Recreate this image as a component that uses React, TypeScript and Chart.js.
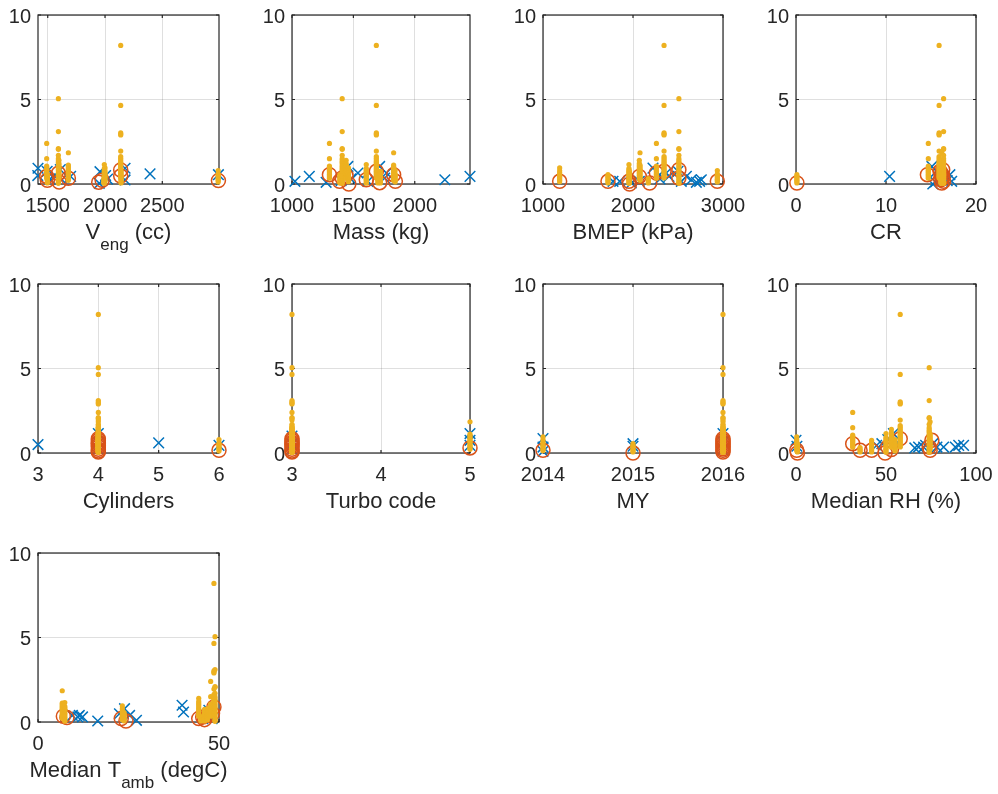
import { useEffect, useRef } from 'react';
import { Chart, registerables } from 'chart.js';

Chart.register(...registerables);

// ---- colours (MATLAB default order) ----
const BLUE = '#0072BD';
const ORANGE = '#D95319';
const YELLOW = '#EDB120';
const AXIS = '#262626';
const GRID = 'rgba(38,38,38,0.15)';
const FONT = "'Liberation Sans', Arial, Helvetica, sans-serif";

// ---- individual test results per vehicle (y values) ----
const runsA = [8.2, 4.65, 3.02, 2.96, 2.9, 1.95, 1.62, 1.52, 1.42, 1.32, 1.24, 1.16, 1.08, 1.0, 0.92, 0.84, 0.76, 0.68, 0.6, 0.52, 0.44, 0.36];
const runsB = [5.05, 3.1, 2.1, 2.05, 1.7, 1.5, 1.38, 1.28, 1.18, 1.08, 0.98, 0.88, 0.78, 0.68, 0.58, 0.48, 0.38, 0.28, 0.18, 0.1, 0.04];
const runsC = [2.4, 1.5, 1.06, 0.98, 0.9, 0.82, 0.74, 0.66, 0.58, 0.5, 0.42, 0.34];
const runsD = [1.85, 1.12, 1.04, 0.94, 0.86, 0.78, 0.7, 0.62, 0.54, 0.46, 0.38, 0.3, 0.22];
const runsE = [1.15, 0.92, 0.84, 0.76, 0.68, 0.6, 0.52, 0.44, 0.36, 0.28, 0.2, 0.12, 0.05];
const runsF = [1.4, 1.22, 1.1, 1.0, 0.9, 0.8, 0.7, 0.6, 0.5, 0.42, 0.34];
const runsG = [0.95, 0.78, 0.66, 0.56, 0.46, 0.38, 0.3, 0.22, 0.14];
const runsH = [0.8, 0.6, 0.52, 0.44, 0.36, 0.28, 0.2, 0.12];
const runsJ = [0.55, 0.46, 0.38, 0.3, 0.22, 0.14, 0.06];
const runsK = [0.75, 0.62, 0.52, 0.42, 0.32, 0.22, 0.14, 0.06];
const runsL = [0.32, 0.22, 0.14, 0.06];

type Pt = [number, number];
type Col = { x: number; ys: number[] };

// ---- y axis (shared) ----
const yLimits: Pt = [0, 10];
const yTicks = [0, 5, 10];

// ---- V_eng (cc) ----
const vengLimits: Pt = [1415, 2995];
const vengTicks = [1500, 2000, 2500];
const vengDots: Col[] = [
  { x: 1491, ys: runsC }, { x: 1497, ys: runsJ }, { x: 1593, ys: runsB }, { x: 1598, ys: runsF },
  { x: 1680, ys: runsD }, { x: 1994, ys: runsE }, { x: 2000, ys: runsG }, { x: 2137, ys: runsA },
  { x: 2140, ys: runsK }, { x: 1990, ys: runsL }, { x: 2988, ys: runsH },
];
const vengCircles: Pt[] = [[1491, 0.45], [1497, 0.22], [1593, 0.63], [1600, 0.12], [1680, 0.34], [1945, 0.1], [1975, 0.22], [2137, 0.83], [2137, 0.47], [2990, 0.2]];
const vengCrosses: Pt[] = [[1415, 0.93], [1413, 0.5], [1495, 0.75], [1520, 0.3], [1560, 0.45], [1610, 0.85], [1625, 0.25], [1700, 0.45], [1956, 0.73], [2022, 0.29], [1950, 0.04], [2005, 0.5], [2175, 0.93], [2175, 0.24], [2393, 0.6], [2990, 0.55]];

// ---- Mass (kg) ----
const massLimits: Pt = [1000, 2450];
const massTicks = [1000, 1500, 2000];
const massDots: Col[] = [
  { x: 1305, ys: runsC }, { x: 1390, ys: runsJ }, { x: 1409, ys: runsB }, { x: 1441, ys: runsF },
  { x: 1460, ys: runsG }, { x: 1605, ys: runsE }, { x: 1687, ys: runsA }, { x: 1720, ys: runsK },
  { x: 1700, ys: runsL }, { x: 1828, ys: runsD }, { x: 1840, ys: runsH },
];
const massCircles: Pt[] = [[1305, 0.55], [1387, 0.16], [1409, 0.35], [1440, 0.5], [1463, 0.0], [1605, 0.25], [1687, 0.75], [1714, 0.08], [1828, 0.55], [1842, 0.16]];
const massCrosses: Pt[] = [[1024, 0.16], [1141, 0.45], [1278, 0.1], [1400, 0.2], [1455, 1.04], [1480, 0.3], [1537, 0.65], [1618, 0.16], [1714, 1.04], [1755, 0.35], [1769, 0.65], [2245, 0.25], [2450, 0.45]];

// ---- BMEP (kPa) ----
const bmepLimits: Pt = [1000, 3000];
const bmepTicks = [1000, 2000, 3000];
const bmepDots: Col[] = [
  { x: 1185, ys: runsG }, { x: 1722, ys: runsJ }, { x: 1955, ys: runsE }, { x: 1960, ys: runsK },
  { x: 2070, ys: runsF }, { x: 2078, ys: runsD }, { x: 2170, ys: runsL }, { x: 2260, ys: runsC },
  { x: 2345, ys: runsA }, { x: 2510, ys: runsB }, { x: 2937, ys: runsH },
];
const bmepCircles: Pt[] = [[1185, 0.16], [1722, 0.16], [1955, 0.16], [1962, 0.0], [2070, 0.45], [2185, 0.06], [2260, 0.65], [2345, 0.75], [2510, 0.85], [2510, 0.35], [2937, 0.16]];
const bmepCrosses: Pt[] = [[1778, 0.16], [1852, 0.16], [1981, 0.06], [2070, 0.16], [2222, 0.94], [2296, 0.55], [2300, 0.3], [2370, 0.65], [2400, 0.45], [2500, 0.75], [2537, 0.16], [2593, 0.45], [2648, 0.25], [2704, 0.1], [2740, 0.16], [2759, 0.25]];

// ---- CR ----
const crLimits: Pt = [0, 20];
const crTicks = [0, 10, 20];
const crDots: Col[] = [
  { x: 0.1, ys: runsJ }, { x: 14.7, ys: runsC }, { x: 15.9, ys: runsA }, { x: 16.1, ys: runsE },
  { x: 16.2, ys: runsD }, { x: 16.2, ys: runsF }, { x: 16.3, ys: runsG }, { x: 16.3, ys: runsH },
  { x: 16.4, ys: runsB }, { x: 16.4, ys: runsK }, { x: 16.2, ys: runsL },
];
const crCircles: Pt[] = [[0.1, 0.06], [14.6, 0.55], [16.0, 0.75], [16.1, 0.25], [16.2, 0.06], [16.3, 0.85], [16.3, 0.45], [16.2, 0.6], [16.4, 0.16], [16.3, 0.35]];
const crCrosses: Pt[] = [[10.4, 0.45], [15.1, 1.04], [15.2, 0.0], [15.5, 0.12], [15.6, 0.75], [16.0, 0.3], [16.8, 0.2], [17.1, 0.55], [17.3, 0.16]];

// ---- Cylinders ----
const cylLimits: Pt = [3, 6];
const cylTicks = [3, 4, 5, 6];
const cylDots: Col[] = [
  { x: 4, ys: runsA }, { x: 4, ys: runsB }, { x: 4, ys: runsC }, { x: 4, ys: runsD }, { x: 4, ys: runsE },
  { x: 4, ys: runsF }, { x: 4, ys: runsG }, { x: 4, ys: runsJ }, { x: 4, ys: runsK }, { x: 4, ys: runsL },
  { x: 6, ys: runsH },
];
const cylCircles: Pt[] = [[4, 0.06], [4, 0.12], [4, 0.22], [4, 0.35], [4, 0.45], [4, 0.55], [4, 0.63], [4, 0.75], [4, 0.85], [6, 0.16]];
const cylCrosses: Pt[] = [[3, 0.5], [4, 1.15], [4, 0.6], [4, 0.25], [5, 0.6], [6, 0.45]];

// ---- Turbo code ----
const turboLimits: Pt = [3, 5];
const turboTicks = [3, 4, 5];
const turboDots: Col[] = [
  { x: 3, ys: runsA }, { x: 3, ys: runsB }, { x: 3, ys: runsC }, { x: 3, ys: runsE }, { x: 3, ys: runsF },
  { x: 3, ys: runsG }, { x: 3, ys: runsH }, { x: 3, ys: runsJ }, { x: 3, ys: runsK }, { x: 3, ys: runsL },
  { x: 5, ys: runsD },
];
const turboCircles: Pt[] = [[3, 0.06], [3, 0.12], [3, 0.22], [3, 0.35], [3, 0.45], [3, 0.55], [3, 0.63], [3, 0.75], [3, 0.85], [5, 0.3]];
const turboCrosses: Pt[] = [[3, 1.0], [3, 0.5], [3, 0.2], [5, 1.15], [5, 0.75], [5, 0.45]];

// ---- MY ----
const myLimits: Pt = [2014, 2016];
const myTicks = [2014, 2015, 2016];
const myDots: Col[] = [
  { x: 2014, ys: runsG }, { x: 2015, ys: runsJ },
  { x: 2016, ys: runsA }, { x: 2016, ys: runsB }, { x: 2016, ys: runsC }, { x: 2016, ys: runsD },
  { x: 2016, ys: runsE }, { x: 2016, ys: runsF }, { x: 2016, ys: runsH }, { x: 2016, ys: runsK }, { x: 2016, ys: runsL },
];
const myCircles: Pt[] = [[2014, 0.16], [2015, 0.0], [2016, 0.06], [2016, 0.16], [2016, 0.25], [2016, 0.35], [2016, 0.45], [2016, 0.55], [2016, 0.65], [2016, 0.75], [2016, 0.85]];
const myCrosses: Pt[] = [[2014, 0.85], [2014, 0.35], [2014, 0.1], [2015, 0.55], [2015, 0.4], [2016, 1.15], [2016, 0.6], [2016, 0.2]];

// ---- Median RH (%) ----
const rhLimits: Pt = [0, 100];
const rhTicks = [0, 50, 100];
const rhDots: Col[] = [
  { x: 0.4, ys: runsG }, { x: 0.8, ys: runsJ }, { x: 31.5, ys: runsC }, { x: 35.6, ys: runsL },
  { x: 42, ys: runsK }, { x: 50, ys: runsE }, { x: 53, ys: runsF }, { x: 55, ys: runsH },
  { x: 57.9, ys: runsA }, { x: 74, ys: runsB }, { x: 74.5, ys: runsD },
];
const rhCircles: Pt[] = [[0.4, 0.16], [0.8, 0.0], [31.5, 0.55], [35.6, 0.16], [42, 0.16], [49.5, 0.0], [51, 0.35], [53, 0.2], [57.9, 0.85], [74, 0.35], [74.5, 0.16], [75.5, 0.75]];
const rhCrosses: Pt[] = [[0, 0.75], [0.5, 0.4], [44.8, 0.45], [47.7, 0.55], [51, 0.8], [54.1, 1.15], [56, 0.6], [66, 0.3], [68.1, 0.35], [70.9, 0.35], [72, 0.45], [76, 0.55], [78.3, 0.35], [82, 0.35], [88.5, 0.35], [90.4, 0.45], [93.1, 0.45]];

// ---- Median T_amb (degC) ----
const tambLimits: Pt = [0, 50];
const tambTicks = [0, 50];
const tambDots: Col[] = [
  { x: 6.7, ys: runsD }, { x: 7.4, ys: runsE }, { x: 23.3, ys: runsG }, { x: 23.8, ys: runsJ },
  { x: 44.4, ys: runsF }, { x: 45, ys: runsL }, { x: 46, ys: runsK }, { x: 46.8, ys: runsH },
  { x: 47.7, ys: runsC }, { x: 48.6, ys: runsA }, { x: 48.9, ys: runsB },
];
const tambCircles: Pt[] = [[7, 0.34], [8, 0.26], [23, 0.2], [24.3, 0.06], [44.4, 0.2], [45.5, 0.3], [46, 0.14], [47, 0.39], [48.2, 0.5], [48.6, 0.89]];
const tambCrosses: Pt[] = [[9.5, 0.39], [11, 0.3], [11.4, 0.39], [12.3, 0.3], [16.5, 0.06], [22.5, 0.49], [23.9, 0.79], [25.3, 0.39], [27.2, 0.1], [39.8, 0.99], [40.2, 0.59], [46.7, 0.39], [47.2, 0.69], [48.1, 0.2]];

// ---- axis captions (sub = subscript piece) ----
type Piece = { text: string; sub?: boolean };
const captions: Piece[][] = [
  [{ text: 'V' }, { text: 'eng', sub: true }, { text: ' (cc)' }],
  [{ text: 'Mass (kg)' }],
  [{ text: 'BMEP (kPa)' }],
  [{ text: 'CR' }],
  [{ text: 'Cylinders' }],
  [{ text: 'Turbo code' }],
  [{ text: 'MY' }],
  [{ text: 'Median RH (%)' }],
  [{ text: 'Median T' }, { text: 'amb', sub: true }, { text: ' (degC)' }],
];

type PanelSpec = {
  limits: Pt; ticks: number[]; dots: Col[]; circles: Pt[]; crosses: Pt[]; caption: Piece[];
};

const panels: PanelSpec[] = [
  { limits: vengLimits, ticks: vengTicks, dots: vengDots, circles: vengCircles, crosses: vengCrosses, caption: captions[0] },
  { limits: massLimits, ticks: massTicks, dots: massDots, circles: massCircles, crosses: massCrosses, caption: captions[1] },
  { limits: bmepLimits, ticks: bmepTicks, dots: bmepDots, circles: bmepCircles, crosses: bmepCrosses, caption: captions[2] },
  { limits: crLimits, ticks: crTicks, dots: crDots, circles: crCircles, crosses: crCrosses, caption: captions[3] },
  { limits: cylLimits, ticks: cylTicks, dots: cylDots, circles: cylCircles, crosses: cylCrosses, caption: captions[4] },
  { limits: turboLimits, ticks: turboTicks, dots: turboDots, circles: turboCircles, crosses: turboCrosses, caption: captions[5] },
  { limits: myLimits, ticks: myTicks, dots: myDots, circles: myCircles, crosses: myCrosses, caption: captions[6] },
  { limits: rhLimits, ticks: rhTicks, dots: rhDots, circles: rhCircles, crosses: rhCrosses, caption: captions[7] },
  { limits: tambLimits, ticks: tambTicks, dots: tambDots, circles: tambCircles, crosses: tambCrosses, caption: captions[8] },
];

// ---- subplot grid geometry (plot-area boxes) ----
const COL_LEFT = [38, 292, 543, 796];
const COL_WIDTH = [181, 178, 180, 180];
const ROW_TOP = [15, 284, 553];
const PLOT_H = 169;
const PAD_LEFT = 38;
const PAD_TOP = 20;
const PAD_RIGHT = 34;
const PAD_BOTTOM = 80;
const TICK_SIZE = 20;
const LABEL_SIZE = 22;
const SUB_SIZE = 17;

// Box outline with inward tick marks on all four sides
const boxPlugin = {
  id: 'boxOutline',
  beforeDatasetsDraw(chart: any) {
    const { ctx, chartArea: a, scales } = chart;
    ctx.save();
    ctx.strokeStyle = AXIS;
    ctx.lineWidth = 1.2;
    ctx.strokeRect(a.left, a.top, a.right - a.left, a.bottom - a.top);
    const len = 3;
    ctx.beginPath();
    scales.x.ticks.forEach((t: any) => {
      const px = scales.x.getPixelForValue(t.value);
      ctx.moveTo(px, a.bottom); ctx.lineTo(px, a.bottom - len);
      ctx.moveTo(px, a.top); ctx.lineTo(px, a.top + len);
    });
    scales.y.ticks.forEach((t: any) => {
      const py = scales.y.getPixelForValue(t.value);
      ctx.moveTo(a.left, py); ctx.lineTo(a.left + len, py);
      ctx.moveTo(a.right, py); ctx.lineTo(a.right - len, py);
    });
    ctx.stroke();
    ctx.restore();
  },
};

// x-axis caption, with optional subscript pieces
function captionPlugin(pieces: Piece[]) {
  return {
    id: 'axisCaption',
    afterDraw(chart: any) {
      const { ctx, chartArea: a } = chart;
      ctx.save();
      ctx.fillStyle = AXIS;
      ctx.textAlign = 'left';
      ctx.textBaseline = 'alphabetic';
      const fontOf = (p: Piece) => `${p.sub ? SUB_SIZE : LABEL_SIZE}px ${FONT}`;
      const widths = pieces.map((p) => { ctx.font = fontOf(p); return ctx.measureText(p.text).width; });
      const total = widths.reduce((s, w) => s + w, 0);
      let x = (a.left + a.right) / 2 - total / 2;
      const base = a.bottom + 55;
      pieces.forEach((p, i) => {
        ctx.font = fontOf(p);
        ctx.fillText(p.text, x, base + (p.sub ? 11 : 0));
        x += widths[i];
      });
      ctx.restore();
    },
  };
}

function Subplot({ spec, left, top, plotW }: { spec: PanelSpec; left: number; top: number; plotW: number }) {
  const ref = useRef<HTMLCanvasElement>(null);
  const W = PAD_LEFT + plotW + PAD_RIGHT;
  const H = PAD_TOP + PLOT_H + PAD_BOTTOM;

  useEffect(() => {
    const dotData = spec.dots.flatMap((c) => c.ys.map((y) => ({ x: c.x, y })));
    const circleData = spec.circles.map(([x, y]) => ({ x, y }));
    const crossData = spec.crosses.map(([x, y]) => ({ x, y }));
    const tickFont = { family: FONT, size: TICK_SIZE };

    const chart = new Chart(ref.current!, {
      type: 'scatter',
      data: {
        datasets: [
          {
            data: dotData, pointStyle: 'circle', pointRadius: 2.6, pointBorderWidth: 0,
            pointBackgroundColor: YELLOW, pointBorderColor: YELLOW, clip: false as any,
          },
          {
            data: circleData, pointStyle: 'circle', pointRadius: 7, pointBorderWidth: 1.5,
            pointBackgroundColor: 'rgba(0,0,0,0)', pointBorderColor: ORANGE, clip: false as any,
          },
          {
            data: crossData, pointStyle: 'crossRot', pointRadius: 7.5, pointBorderWidth: 1.5,
            pointBackgroundColor: BLUE, pointBorderColor: BLUE, clip: false as any,
          },
        ],
      },
      options: {
        responsive: false,
        animation: false,
        events: [],
        layout: { padding: { left: 0, top: PAD_TOP, right: PAD_RIGHT, bottom: 0 }, autoPadding: false },
        plugins: { legend: { display: false }, tooltip: { enabled: false } },
        scales: {
          x: {
            type: 'linear',
            min: spec.limits[0],
            max: spec.limits[1],
            afterBuildTicks: (s: any) => { s.ticks = spec.ticks.map((v) => ({ value: v })); },
            afterFit: (s: any) => { s.height = PAD_BOTTOM; },
            grid: { color: GRID, lineWidth: 1, drawTicks: false },
            border: { display: false },
            ticks: {
              font: tickFont, color: AXIS, padding: 10, maxRotation: 0, autoSkip: false,
              callback: (v: any) => String(v),
            },
          },
          y: {
            type: 'linear',
            min: yLimits[0],
            max: yLimits[1],
            afterBuildTicks: (s: any) => { s.ticks = yTicks.map((v) => ({ value: v })); },
            afterFit: (s: any) => { s.width = PAD_LEFT; },
            grid: { color: GRID, lineWidth: 1, drawTicks: false },
            border: { display: false },
            ticks: {
              font: tickFont, color: AXIS, padding: 7, labelOffset: 2, autoSkip: false,
              callback: (v: any) => String(v),
            },
          },
        },
      },
      plugins: [boxPlugin, captionPlugin(spec.caption)],
    } as any);
    return () => chart.destroy();
  }, [spec]);

  return (
    <canvas
      ref={ref}
      width={W}
      height={H}
      style={{ position: 'absolute', left, top, width: W, height: H }}
    />
  );
}

export default function App() {
  return (
    <div
      style={{
        position: 'fixed', left: 0, top: 0, width: 998, height: 794,
        background: '#ffffff', overflow: 'hidden',
      }}
    >
      {panels.map((spec, i) => {
        const row = Math.floor(i / 4);
        const col = i % 4;
        return (
          <Subplot
            key={i}
            spec={spec}
            left={COL_LEFT[col] - PAD_LEFT}
            top={ROW_TOP[row] - PAD_TOP}
            plotW={COL_WIDTH[col]}
          />
        );
      })}
    </div>
  );
}
